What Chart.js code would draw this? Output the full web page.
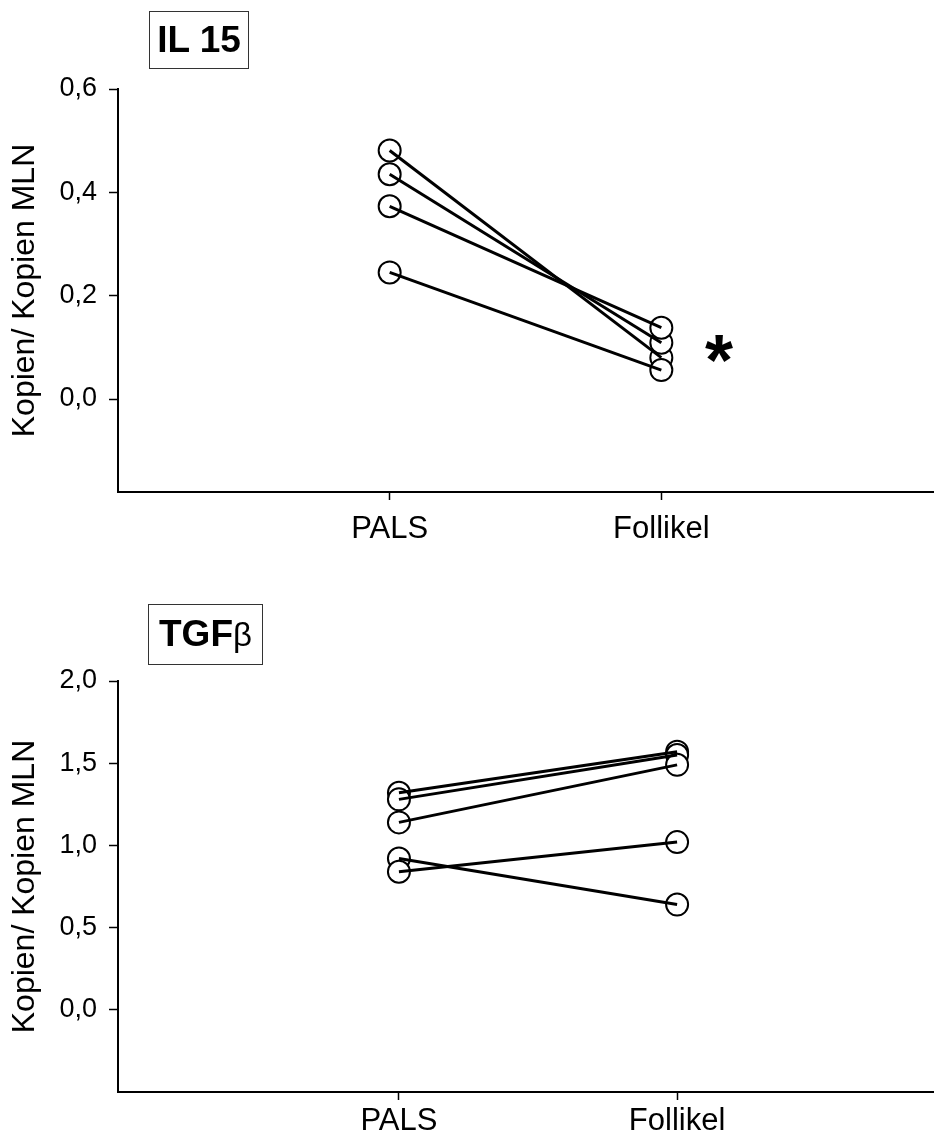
<!DOCTYPE html>
<html lang="de">
  <head>
    <meta charset="UTF-8" />
    <title>IL 15 / TGFβ – PALS vs. Follikel</title>
    <script src="https://cdn.jsdelivr.net/npm/chart.js"></script>
    <style>
      body {
        margin: 0;
        background: #fff;
        font-family: "Liberation Sans", Arial, sans-serif;
      }
      .wrap {
        position: relative;
        width: 946px;
        height: 1131px;
        overflow: hidden;
      }
      canvas {
        position: absolute;
        left: 0;
      }
      .titlebox {
        position: absolute;
        border: 1.5px solid #333;
        font-weight: bold;
        color: #000;
        text-align: center;
        box-sizing: border-box;
      }
      .star {
        position: absolute;
        font-size: 72px;
        font-weight: bold;
        line-height: 1;
      }
    </style>
  </head>
  <body>
    <div class="wrap">
      <canvas id="il15Chart" width="946" height="580" style="top: 0"></canvas>
      <canvas id="tgfChart" width="946" height="551" style="top: 580px"></canvas>

      <div class="titlebox" style="left: 149px; top: 11px; width: 100px; height: 58px; font-size: 37px; line-height: 55px">IL 15</div>
      <div class="titlebox" style="left: 148px; top: 604px; width: 115px; height: 61px; font-size: 37px; line-height: 58px">TGF<span style="font-weight: normal; font-size: 33px">β</span></div>
      <div class="star" style="left: 705px; top: 324px">*</div>
    </div>

    <script>
      // categories on the x axis (placed at x = 1 and x = 2)
      const categories = ["PALS", "Follikel"];

      // IL 15, one value pair per animal
      const il15Pals = [0.481, 0.435, 0.373, 0.245];
      const il15Follikel = [0.08, 0.109, 0.138, 0.056];
      const il15Ticks = [0.0, 0.2, 0.4, 0.6];

      // TGF beta
      const tgfPals = [1.32, 1.28, 1.14, 0.92, 0.84];
      const tgfFollikel = [1.57, 1.55, 1.49, 0.64, 1.02];
      const tgfTicks = [0.0, 0.5, 1.0, 1.5, 2.0];

      const font = "'Liberation Sans', Arial, sans-serif";

      function buildDatasets(pals, foll) {
        const sets = pals.map((v, i) => ({
          data: [
            { x: 1, y: v },
            { x: 2, y: foll[i] },
          ],
          showLine: true,
          borderColor: "#000",
          borderWidth: 3,
          pointRadius: 0,
        }));
        // circles drawn last so they sit on top of all lines
        sets.push({
          data: pals
            .map((v) => ({ x: 1, y: v }))
            .concat(foll.map((v) => ({ x: 2, y: v }))),
          showLine: false,
          pointRadius: 11,
          pointBackgroundColor: "#fff",
          pointBorderColor: "#000",
          pointBorderWidth: 2,
        });
        return sets;
      }

      function makeChart(id, pals, foll, yTicks, cfg) {
        return new Chart(document.getElementById(id), {
          type: "scatter",
          data: { datasets: buildDatasets(pals, foll) },
          options: {
            responsive: false,
            animation: false,
            devicePixelRatio: 1,
            layout: {
              padding: { top: cfg.top, right: cfg.right, left: 0, bottom: 0 },
            },
            plugins: { legend: { display: false }, tooltip: { enabled: false } },
            scales: {
              x: {
                type: "linear",
                min: cfg.xMin,
                max: cfg.xMax,
                afterBuildTicks: (s) => {
                  s.ticks = categories.map((c, i) => ({ value: i + 1 }));
                },
                afterFit: (s) => {
                  s.height = cfg.xHeight;
                },
                ticks: {
                  callback: (v) => categories[v - 1],
                  color: "#000",
                  font: { family: font, size: 31 },
                  padding: cfg.xPad,
                  maxRotation: 0,
                  autoSkip: false,
                },
                grid: {
                  drawOnChartArea: false,
                  tickLength: 8,
                  tickWidth: 1.5,
                  tickColor: "#000",
                },
                border: { display: true, color: "#000", width: 2 },
              },
              y: {
                min: cfg.yMin,
                max: cfg.yMax,
                afterBuildTicks: (s) => {
                  s.ticks = yTicks.map((v) => ({ value: v }));
                },
                afterFit: (s) => {
                  s.width = 118;
                },
                ticks: {
                  callback: (v) => v.toFixed(1).replace(".", ","),
                  color: "#000",
                  font: { family: font, size: 27 },
                  padding: 12,
                  autoSkip: false,
                },
                grid: {
                  drawOnChartArea: false,
                  tickLength: 9,
                  tickWidth: 1.5,
                  tickColor: "#000",
                },
                border: { display: true, color: "#000", width: 2 },
                title: {
                  display: true,
                  text: "Kopien/ Kopien MLN",
                  color: "#000",
                  font: { family: font, size: 32 },
                  padding: { top: 6, bottom: 0 },
                },
              },
            },
          },
        });
      }

      makeChart("il15Chart", il15Pals, il15Follikel, il15Ticks, {
        top: 89,
        right: 13,
        xHeight: 88,
        xPad: 11,
        xMin: 0,
        xMax: 3,
        yMin: -0.18,
        yMax: 0.6,
      });

      makeChart("tgfChart", tgfPals, tgfFollikel, tgfTicks, {
        top: 101,
        right: 9,
        xHeight: 39,
        xPad: 3,
        xMin: -0.01,
        xMax: 2.92,
        yMin: -0.5,
        yMax: 2.0,
      });
    </script>
  </body>
</html>
